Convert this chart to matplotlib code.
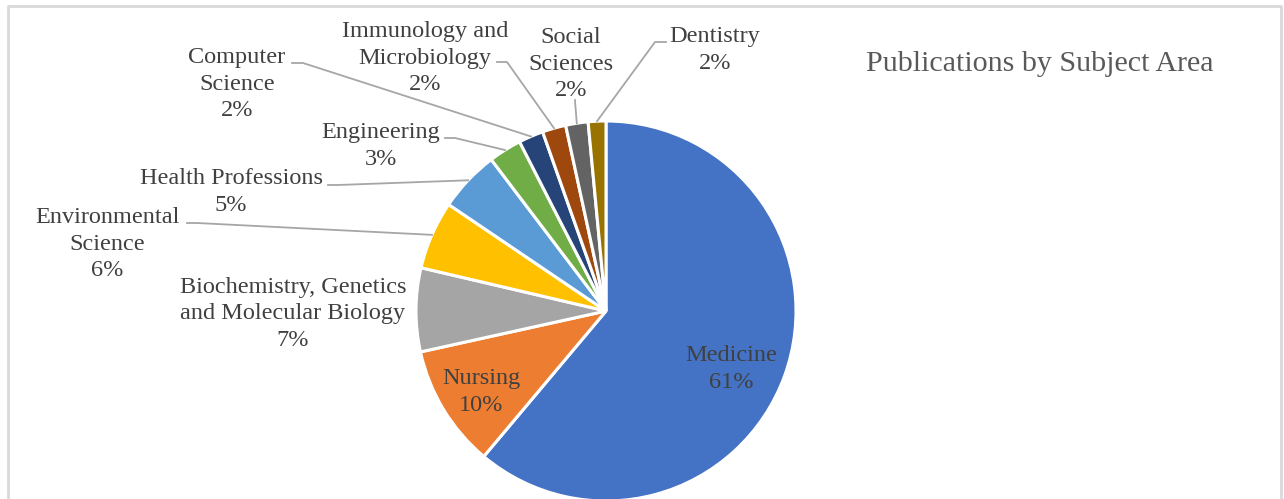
import matplotlib
matplotlib.use("Agg")
import matplotlib.pyplot as plt
import numpy as np

categories = ["Medicine", "Nursing", "Biochemistry, Genetics\nand Molecular Biology",
              "Environmental\nScience", "Health Professions", "Engineering",
              "Computer\nScience", "Immunology and\nMicrobiology", "Social\nSciences",
              "Dentistry"]
shares = [61.0, 10.4, 7.1, 5.8, 5.2, 2.8, 2.1, 2.0, 1.9, 1.5]
colors = ["#4472C4", "#ED7D31", "#A5A5A5", "#FFC000", "#5B9BD5", "#70AD47",
          "#264478", "#9E480E", "#636363", "#997300"]
title = "Publications by Subject Area"

W, H = 1284, 499
fig = plt.figure(figsize=(W / 100, H / 100), dpi=100)
ax = fig.add_axes([0, 0, 1, 1])
ax.set_xlim(0, W)
ax.set_ylim(0, H)
ax.set_aspect("equal")
ax.axis("off")

FONT = "Liberation Serif"
TXT = "#404040"
cx, cy, R = 606, H - 311, 190

wedges, _ = ax.pie(shares, colors=colors, startangle=90, counterclock=False,
                   center=(cx, cy), radius=R, frame=True,
                   wedgeprops=dict(edgecolor="white", linewidth=2.2))
ax.set_xlim(0, W)
ax.set_ylim(0, H)
ax.axis("off")

total = sum(shares)
pcts = [f"{round(v / total * 100)}%" for v in shares]

# label layout (pixel positions, y from top), leader anchor (or None)
layout = [
    ((731, 369), None),
    ((481, 392), None),
    ((293, 314), None),
    ((107, 244), [(187, 223), (197, 223)]),
    ((231, 192), [(328, 185), (338, 185)]),
    ((381, 146), [(445, 138), (455, 138)]),
    ((237, 84), [(292, 63), (303, 63)]),
    ((425, 58), [(497, 62), (507, 62)]),
    ((571, 64), [(575, 100), (575, 101)]),
    ((715, 50), [(666, 42), (655, 42)]),
]

for w, cat, pct, (pos, anchor) in zip(wedges, categories, pcts, layout):
    ax.text(pos[0], H - pos[1], f"{cat}\n{pct}", ha="center", va="center",
            family=FONT, fontsize=17.5, color=TXT, linespacing=1.33, zorder=5)
    if anchor is not None:
        mid = np.deg2rad((w.theta1 + w.theta2) / 2)
        ex, ey = cx + R * np.cos(mid), cy + R * np.sin(mid)
        xs = [anchor[0][0], anchor[1][0], ex]
        ys = [H - anchor[0][1], H - anchor[1][1], ey]
        ax.plot(xs, ys, color="#A6A6A6", lw=1.3, zorder=4)

ax.text(1040, H - 64, title, ha="center", va="center", family=FONT,
        fontsize=21.6, color="#595959")

# chart frame
ax.plot([8, 8, 1281, 1281], [0, H - 6, H - 6, 0], color="#D9D9D9", lw=2,
        clip_on=False)

fig.savefig("out.png", dpi=100)
